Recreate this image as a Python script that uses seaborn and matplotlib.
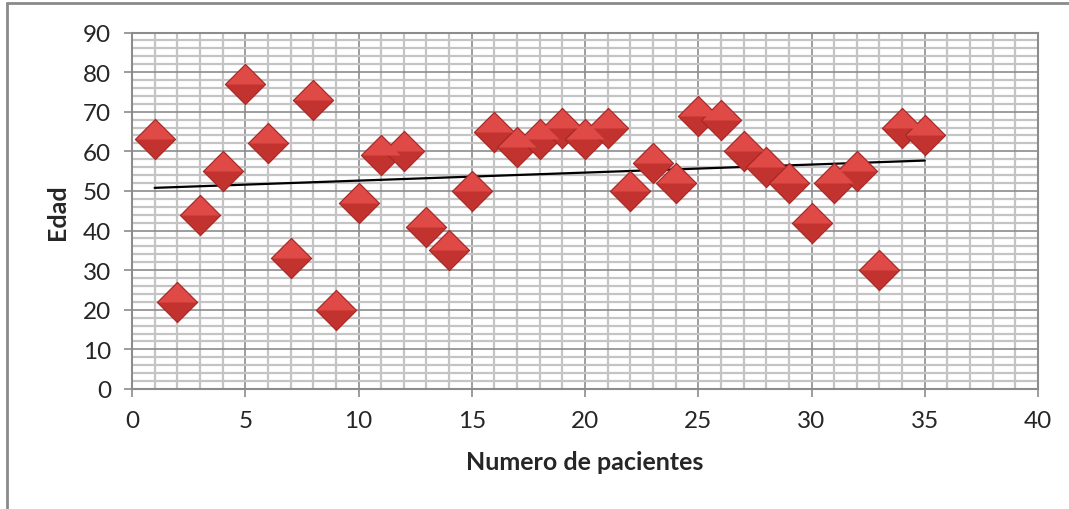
import numpy as np
import pandas as pd
import seaborn as sns
from matplotlib import pyplot as plt
from matplotlib.lines import Line2D
from matplotlib.ticker import MultipleLocator

# patient number vs age
pacientes = list(range(1, 36))
edad = [63, 22, 44, 55, 77, 62, 33, 73, 20, 47,
        59, 60, 41, 35, 50, 65, 61, 63, 66, 63,
        66, 50, 57, 52, 69, 68, 60, 56, 52, 42,
        52, 55, 30, 66, 64]
x_ticks = [0, 5, 10, 15, 20, 25, 30, 35, 40]
y_ticks = [0, 10, 20, 30, 40, 50, 60, 70, 80, 90]

df = pd.DataFrame({'Numero': pacientes, 'Edad': edad})

sns.set_style('white')
plt.rcParams['font.family'] = ['Lato', 'DejaVu Sans']

fig = plt.figure(figsize=(10.69, 5.10), dpi=100)
ax = fig.add_axes([132 / 1069, 1 - 390 / 510, (1038 - 132) / 1069, (390 - 33.5) / 510])

# chart border (only left/top visible in the picture)
fig.add_artist(Line2D([7 / 1069, 7 / 1069], [0, 1 - 4 / 510], transform=fig.transFigure,
                      color='#8a8a8a', lw=2))
fig.add_artist(Line2D([7 / 1069, 1], [1 - 4 / 510, 1 - 4 / 510], transform=fig.transFigure,
                      color='#8a8a8a', lw=2))

# trend line
m, b = np.polyfit(df.Numero, df.Edad, 1)
xs = np.array([df.Numero.min(), df.Numero.max()])
sns.lineplot(x=xs, y=m * xs + b, color='black', lw=1.6, ax=ax, zorder=3)

# 3d-ish diamonds: dark base + lighter upper half
size = 420
sns.scatterplot(data=df, x='Numero', y='Edad', marker='D', s=size, color='#c2322f',
                edgecolor='#a52825', linewidth=0.8, ax=ax, zorder=4)
top_half = [(-1, 0), (0, 1), (1, 0), (-1, 0)]
sns.scatterplot(data=df, x='Numero', y='Edad', marker=top_half, s=size * 1.8, color='#e04a46',
                linewidth=0, ax=ax, zorder=5)

ax.set_xlim(0, 40)
ax.set_ylim(0, 90)
ax.set_xticks(x_ticks)
ax.set_yticks(y_ticks)
ax.xaxis.set_minor_locator(MultipleLocator(1))
ax.yaxis.set_minor_locator(MultipleLocator(2))
ax.grid(True, which='minor', color='#c4c4c4', lw=1.6)
ax.grid(True, which='major', color='#8c8c8c', lw=1.2)
ax.set_axisbelow(True)
for sp in ax.spines.values():
    sp.set_color('#8c8c8c')
    sp.set_linewidth(1.5)
ax.tick_params(which='major', direction='out', length=6, width=1.2, color='#8c8c8c',
               labelsize=17.5, pad=9, bottom=True, left=True)
ax.tick_params(which='minor', length=0)

ax.set_xlabel('Numero de pacientes', fontsize=18, fontweight='bold', labelpad=14)
ax.set_ylabel('Edad', fontsize=18, fontweight='bold', labelpad=10)

fig.savefig('out.png', dpi=100)
